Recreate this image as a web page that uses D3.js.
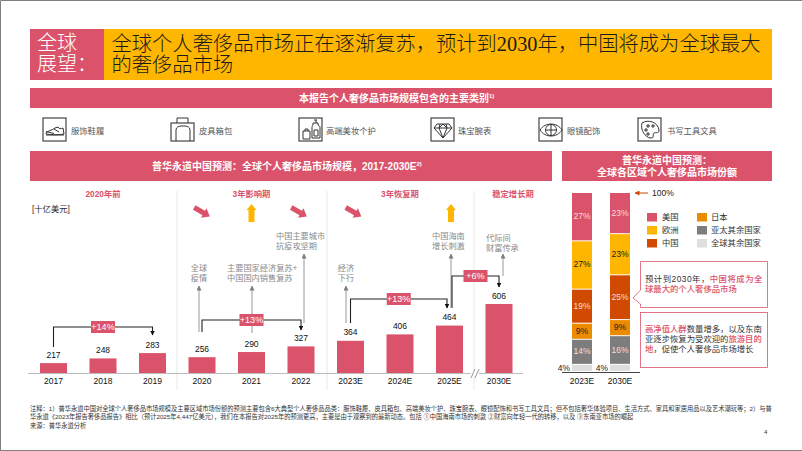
<!DOCTYPE html>
<html lang="zh"><head><meta charset="utf-8">
<style>html,body{margin:0;padding:0;background:#fff}svg{display:block}
text{font-family:"Liberation Sans","Noto Sans CJK SC",sans-serif}</style>
<script src="https://cdn.jsdelivr.net/npm/d3@7/dist/d3.min.js"></script></head><body><svg id="c" width="802" height="451"></svg>
<script>
// ---------- data ----------
const years = ["2017","2018","2019","2020","2021","2022","2023E","2024E","2025E","2030E"];
const marketSize = [217,248,283,256,290,327,364,406,464,606];
const shareYears = ["2023E","2030E"];
const regions = ["全球其余国家","亚太其余国家","日本","中国","欧洲","美国"];
const share2023 = [4,14,9,19,27,27];
const share2030 = [4,16,9,25,23,23];
const phases = [["2020年前","2018"],["3年影响期","2021"],["3年恢复期","2024E"],["稳定增长期","2030E"]];
const cagr = [["+14%","2017","2019"],["+13%","2020","2022"],["+13%","2023E","2025E"],["+6%","2025E","2030E"]];
const categories = ["服饰鞋履","皮具箱包","高端美妆个护","珠宝腕表","眼镜配饰","书写工具文具"];
const titleLines = ["全球个人奢侈品市场正在逐渐复苏，预计到2030年，中国将成为全球最大","的奢侈品市场"];
const notes = [
"注释：1）普华永道中国对全球个人奢侈品市场规模及主要区域市场份额的预测主要包含6大典型个人奢侈品品类：服饰鞋履、皮具箱包、高端美妆个护、珠宝腕表、眼镜配饰和书写工具文具；但不包括奢华体验项目、生活方式、家具和家居用品以及艺术潮玩等；2）与普",
"华永道《2023年报告奢侈品报告》相比（预计2025年4,447亿美元），我们在本报告对2025年的预测更高，主要是由于观察到的最新动态。包括 ①中国海南市场的刺激 ②财富向年轻一代的转移，以及 ③东南亚市场的崛起",
"来源：普华永道分析"];

// ---------- styles ----------
const ROSE="#DB536A", YEL="#FFB600", TANG="#D04A02", ORG="#EB8C00", GRY="#7D7D7D", LGR="#DEDEDE", INK="#2d2d2d";
const regionColor = d3.scaleOrdinal(regions,[LGR,GRY,ORG,TANG,YEL,ROSE]);
const svg = d3.select("#c");
const rect=(x,y,w,h,f,s)=>svg.append("rect").attr("x",x).attr("y",y).attr("width",w).attr("height",h).attr("fill",f||"none").attr("stroke",s||"none");
const text=(t,x,y,o={})=>{const e=svg.append("text").text(t).attr("x",x).attr("y",y).attr("font-size",o.size||8).attr("fill",o.fill||INK)
  .attr("text-anchor",o.anchor||"start").attr("font-weight",o.weight||400).attr("dominant-baseline","central"); if(o.family)e.style("font-family",o.family); return e;};

const defs=svg.append("defs");
const mk=(id,c)=>defs.append("marker").attr("id",id).attr("viewBox","0 0 10 10").attr("refX",9).attr("refY",5).attr("markerWidth",5).attr("markerHeight",5).attr("markerUnits","userSpaceOnUse").attr("orient","auto").append("path").attr("d","M0,0L10,5L0,10Z").attr("fill",c);
mk("ag",GRY); mk("ab","#111"); mk("at",TANG);

// page frame
svg.append("path").attr("d","M0.5,451V0.5H802M0,450.5H802").attr("fill","none").attr("stroke","#808080");

// ---------- header ----------
rect(30,29,74,51,ROSE); rect(104,29,668,51,YEL);
text("全球",37,43,{size:20,fill:"#fff",weight:300});
text("展望：",37,64,{size:20,fill:"#fff",weight:300});
const serif='"Liberation Serif","Noto Sans CJK SC",serif';
titleLines.forEach((t,i)=>text(t,111.500,44+i*20.500,{size:20.300,family:serif,fill:"#1a1a1a",weight:300}));

// band
rect(30,88,742,20,ROSE);
text("本报告个人奢侈品市场规模包含的主要类别",299,98,{size:10,fill:"#fff",weight:700}).call(s=>s.append("tspan").text("1)").attr("font-size",6).attr("dy",-2));

// ---------- category icons ----------
const iconX=[43,171,299,431,539,638], labelX=[71,199,326,458,567,667];
const iconPaths=[
 "M3,15c3,-3 5,-2 9,-5l3,-1c1,2 3,2 5,1l1,6c-6,1 -13,1 -18,0zM3,17h18M3,13.500l8,2M11,11l5,3",
 "M6,5V0H17V5M5,23V12c0,-3 3,-4 5,-4h4c2,0 5,1 5,4V23",
 "M17,2v3M15,2h3M14,5h5v2c2,1 2,2 2,3v10h-8v-10c0,-1 0,-2 1,-3zM4,13h7v8h-7zM6,13v-2h3v2M15,12h4v6h-4z",
 "M6,6H18L21,10L12,20L3,10ZM3,10H21M9,6L8,10L12,20L16,10L15,6M8,10L12,6L16,10",
 "M1,12C6,4 18,4 23,12C18,20 6,20 1,12ZM12,6.500A5.500,5.500 0 1 0 12.010,6.500ZM12,6.500V17.500M6.500,12H17.500",
 "M4,5C10,1 20,4 21,12C21,16 18,14 16,15C14,16 17,20 13,20C7,20 2,11 4,5ZM9,7h2v2h-2zM14,7h2v2h-2zM7,11h2v2h-2zM9,15h2v2h-2z"];
categories.forEach((c,i)=>{
  const g=svg.append("g").attr("transform",`translate(${iconX[i]},118)`);
  g.append("rect").attr("y",i==1?5:0).attr("width",23).attr("height",i==1?18:23).attr("fill","none").attr("stroke","#444").attr("stroke-width",1.200);
  g.append("path").attr("d",iconPaths[i]).attr("fill","none").attr("stroke","#333").attr("stroke-width",1);
  text(c,labelX[i],131,{size:8.300,fill:"#555"});
});

// ---------- section headers ----------
rect(30,151,522,30,ROSE); rect(562,151,210,30,ROSE);
text("普华永道中国预测：全球个人奢侈品市场规模，2017-2030E",152,166,{size:10,fill:"#fff",weight:700}).call(s=>s.append("tspan").text("2)").attr("font-size",6).attr("dy",-2));
text("普华永道中国预测：",667,160,{size:10,fill:"#fff",weight:700,anchor:"middle"});
text("全球各区域个人奢侈品市场份额",667,172,{size:10,fill:"#fff",weight:700,anchor:"middle"});

// ---------- bar chart ----------
const x=d3.scaleBand().domain(years).range([40,512.500]).paddingInner(.4545);
const y=d3.scaleLinear().domain([152,606]).range([373,304]);
const cx=k=>x(k)+x.bandwidth()/2;
const sx=d3.scaleBand().domain(shareYears).range([572,630]).paddingInner(.474);
const sy=d3.scaleLinear().domain([0,100]).range([372,193]);

[177,327,474].forEach(d=>svg.append("line").attr("x1",d).attr("x2",d).attr("y1",191).attr("y2",390).attr("stroke","#e8e8e8"));

svg.selectAll("rect.bar").data(years).join("rect").attr("class","bar")
 .attr("x",d=>x(d)).attr("width",x.bandwidth()).attr("y",(d,i)=>y(marketSize[i])).attr("height",(d,i)=>y.range()[0]-y(marketSize[i])).attr("fill",ROSE);
svg.selectAll("text.v").data(years).join("text").attr("class","v").text((d,i)=>marketSize[i])
 .attr("x",cx).attr("y",(d,i)=>y(marketSize[i])-8.500).attr("text-anchor","middle").attr("dominant-baseline","central").attr("font-size",8.500).attr("fill","#111");

const ax=svg.append("g").attr("transform","translate(0,373)").call(d3.axisBottom(x).tickSize(0).tickPadding(5));
ax.select(".domain").attr("stroke","#bdbdbd").attr("d","M28,0.500H523");
ax.selectAll("text").attr("font-size",8.500).attr("fill","#111").attr("font-family",null);
// axis break
rect(471,370,8,6,"#fff");
svg.append("path").attr("d","M471,378L475,369M475,378L479,369").attr("stroke","#999").attr("fill","none");

phases.forEach(([t,k],i)=>text(t,i==3?513:cx(k),194,{size:8.300,fill:ROSE,weight:700,anchor:"middle"}));
text("[十亿美元]",32,209,{size:8.300});

// block arrows (direction markers)
const down=(px,py)=>svg.append("path").attr("transform",`translate(${px},${py}) rotate(30)`).attr("d","M-9,-2.500H2V-5.500L9,0L2,5.500V2.500H-9Z").attr("fill",ROSE);
const up=(px,py)=>svg.append("path").attr("transform",`translate(${px},${py})`).attr("d","M-3,9V-3H-5L0,-9L5,-3H3V9Z").attr("fill",YEL);
down(cx("2020"),212); down(299,212); down(cx("2023E")+3,212);
up(cx("2021"),213); up(451,213);

// annotations: [lines, x of arrow, from y, to y, text x, anchor, text y]
const notesGray=[
 [["全球","疫情"],199,332,286,199,"middle",268],
 [["主要国家经济复苏+","中国国内销售复苏"],252,333,286,227,"start",268],
 [["中国主要城市","抗疫攻坚期"],304,323,254,276,"start",236],
 [["经济","下行"],346,323,286,346,"middle",268],
 [["中国海南","增长刺激"],451,308,254,432,"start",236],
 [["代际间","财富传承"],503,276,254,486,"start",238]];
notesGray.forEach(([ls,ax0,y0,y1,tx,an,ty])=>{
  svg.append("line").attr("x1",ax0).attr("x2",ax0).attr("y1",y0).attr("y2",y1).attr("stroke",GRY).attr("stroke-width",.8).attr("marker-end","url(#ag)");
  ls.forEach((l,i)=>text(l,tx,ty+i*10,{size:8.200,fill:"#8a8a8a",anchor:an}));
});

// CAGR brackets
const brk=[[347,327,335],[332,320,330],[323,299,308],[308,276,287]];
cagr.forEach(([t,a,b],i)=>{
  const [y0,yt,y1]=brk[i];
  const xa=i==3?452:cx(a), xb=i==2?447:cx(b);
  svg.append("path").attr("d",`M${xa},${y0}V${yt}H${xb}V${y1}`).attr("fill","none").attr("stroke","#222").attr("stroke-width",1.100).attr("marker-end","url(#ab)");
  const mx=(xa+xb)/2;
  rect(mx-12,yt-6,24,12,ROSE);
  text(t,mx,yt,{size:9,fill:"#fff",anchor:"middle"});
});

// ---------- stacked share ----------
const shareRows=shareYears.map((yr,j)=>{const o={year:yr};regions.forEach((r,i)=>o[r]=(j?share2030:share2023)[i]);return o;});
const layers=d3.stack().keys(regions)(shareRows);
layers.forEach(layer=>{
  const r=layer.key;
  layer.forEach(d=>{
    const yr=d.data.year, v=d.data[r], y0=sy(d[0]), y1=sy(d[1]);
    svg.append("rect").attr("x",sx(yr)).attr("width",sx.bandwidth()).attr("y",y1).attr("height",y0-y1-1).attr("fill",regionColor(r));
    const light=r=="美国"||r=="中国"||r=="亚太其余国家";
    if(r=="全球其余国家") text(v+"%",sx(yr)-8,368,{size:8.500,fill:"#222",anchor:"middle"});
    else text(v+"%",sx(yr)+sx.bandwidth()/2,(y0+y1)/2-1,{size:8.500,fill:light?"#f9dcdc":"#222",anchor:"middle"});
  });
});
shareYears.forEach(yr=>text(yr,sx(yr)+sx.bandwidth()/2,381,{size:8.500,fill:"#111",anchor:"middle"}));
svg.append("line").attr("x1",562).attr("x2",640).attr("y1",372.500).attr("y2",372.500).attr("stroke","#444");
svg.append("line").attr("x1",648).attr("x2",635).attr("y1",193).attr("y2",193).attr("stroke",TANG).attr("marker-end","url(#at)");
text("100%",652,193,{size:8.500,fill:"#222"});

// legend
const legend=[["美国",647,217],["欧洲",647,230],["中国",647,243],["日本",697,217],["亚太其余国家",697,230],["全球其余国家",697,243]];
legend.forEach(([r,lx,ly])=>{
  rect(lx,ly-4,10,8.500,regionColor(r));
  text(r,lx+(lx==647?15:14),ly,{size:8.300,fill:"#333"});
});

// callouts
svg.append("path").attr("d","M640.500,261.500H767.500V307.500H640.500V304L633,298L640.500,290Z").attr("fill","#fff").attr("stroke",ROSE).attr("stroke-width",.8);
rect(640.500,312.500,127,55,"#fff",ROSE).attr("stroke-width",.8);
const rich=(parts,tx,ty,sp)=>{const t=text("",tx,ty,{size:8.350}).attr("letter-spacing",sp||0);parts.forEach(([s,c])=>t.append("tspan").text(s).attr("fill",c?ROSE:"#333").attr("font-weight",c?500:400));};
rich([["预计到2030年，",0],["中国将成为全",1]],645,279,.5);
rich([["球最大的个人奢侈品市场",1]],645,289);
rich([["高净值人群",1],["数量增多，以及东南",0]],645,329);
rich([["亚逐步恢复为受欢迎的",0],["旅游目的",1]],645,339);
rich([["地",1],["，促使个人奢侈品市场增长",0]],645,349);

// ---------- notes ----------
notes.forEach((n,i)=>text(n,30,[408.500,416.500,425][i],{size:6.250,fill:"#333"}));
text("4",764,432,{size:6,fill:"#333"});
</script></body></html>
